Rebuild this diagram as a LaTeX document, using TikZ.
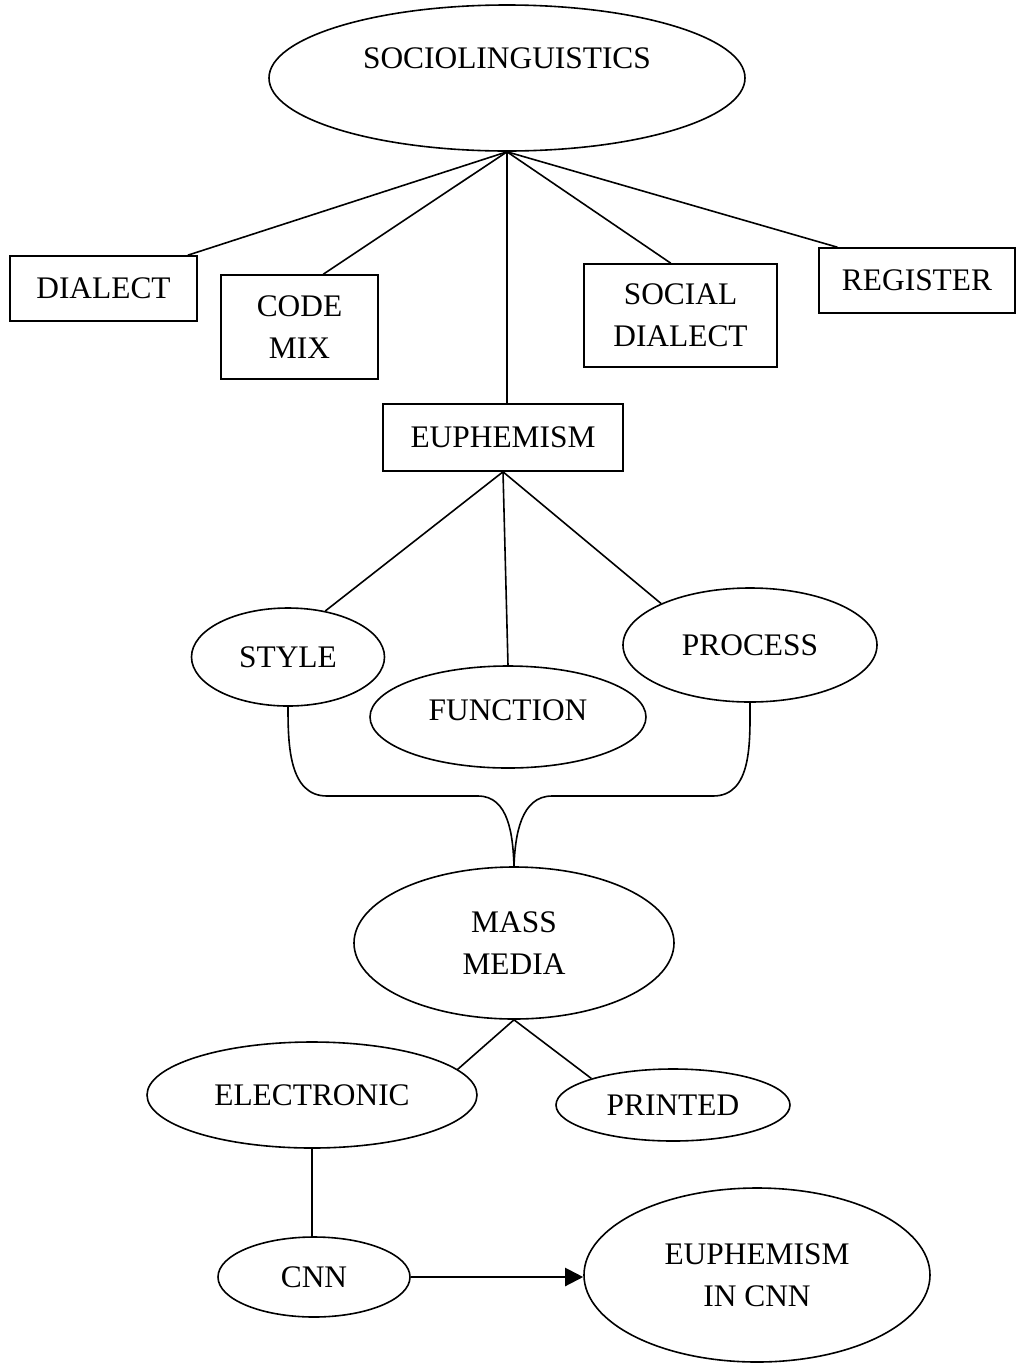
\documentclass[tikz,border=0pt]{standalone}
\usepackage{fontspec}
\setmainfont{Liberation Serif}
\usepackage{tikz}
\usetikzlibrary{shapes.geometric,arrows.meta,calc}

\tikzset{
  box/.style={draw, line width=0.8pt, rectangle, inner sep=0pt, align=center},
  bubble/.style={draw, line width=0.8pt, ellipse, inner sep=0pt, align=center},
  link/.style={line width=0.8pt}
}

\begin{document}
\begin{tikzpicture}[x=0.5pt, y=-0.5pt, font=\fontsize{15.7}{21}\selectfont]
            \useasboundingbox (0,0) rectangle (1017,1366);

            % Radice
            \node[bubble, minimum width=238pt, minimum height=73pt,
                  label={[yshift=10pt]center:SOCIOLINGUISTICS}] (soc) at (507,78) {};

            % Rami
            \node[box, minimum width=93.5pt, minimum height=32.5pt] (dialect) at (103.5,288.5) {DIALECT};
            \node[box, minimum width=78.5pt, minimum height=52pt] (codemix) at (299.5,327) {CODE\\MIX};
            \node[box, minimum width=120pt, minimum height=33.5pt] (euph) at (503,437.5) {EUPHEMISM};
            \node[box, minimum width=96.5pt, minimum height=51.5pt] (socdial) at (680.5,315.5) {SOCIAL\\DIALECT};
            \node[box, minimum width=98pt, minimum height=32.5pt] (register) at (917,280.5) {REGISTER};

            \draw[link] (soc.south) -- ($(dialect.north west)!0.947!(dialect.north east)$);
            \draw[link] (soc.south) -- ($(codemix.north west)!0.65!(codemix.north east)$);
            \draw[link] (soc.south) -- (soc.south |- euph.north);
            \draw[link] (soc.south) -- ($(socdial.north west)!0.45!(socdial.north east)$);
            \draw[link] (soc.south) -- ($(register.north west)!0.097!(register.north east)$);

            % Euphemism
            \node[bubble, minimum width=96.5pt, minimum height=49pt] (style) at (288,657) {STYLE};
            \node[bubble, minimum width=138pt, minimum height=51pt] (function) at (508,717) {\raisebox{7pt}{FUNCTION}};
            \node[bubble, minimum width=127pt, minimum height=57pt] (process) at (750,645) {PROCESS};

            \draw[link] (euph.south) -- (style.51);
            \draw[link] (euph.south) -- (function.north);
            \draw[link] (euph.south) -- (process.155);

            % Mass media
            \node[bubble, minimum width=160pt, minimum height=76pt] (mass) at (514,943) {MASS\\MEDIA};

            \coordinate (bl) at (327,796);
            \coordinate (bml) at (478,796);
            \coordinate (bmr) at (552,796);
            \coordinate (br) at (713,796);

            \draw[link] (style.south) to[out=-90, in=180] (bl) -- (bml) to[out=0, in=92] (mass.north);
            \draw[link] (process.south) to[out=-90, in=0] (br) -- (bmr) to[out=180, in=88] (mass.north);

            \node[bubble, minimum width=165pt, minimum height=53pt] (electronic) at (312,1095) {ELECTRONIC};
            \node[bubble, minimum width=117pt, minimum height=36pt] (printed) at (673,1105) {PRINTED};

            \draw[link] (mass.south) -- (electronic.10);
            \draw[link] (mass.south) -- (printed.162);

            % CNN
            \node[bubble, minimum width=96pt, minimum height=40pt] (cnn) at (314,1277) {CNN};
            \node[bubble, minimum width=173pt, minimum height=87pt] (euphcnn) at (757,1275) {EUPHEMISM\\IN CNN};

            \draw[link] (electronic.south) -- (electronic.south |- cnn.north);
            \draw[line width=1.1pt, -{Triangle[length=9pt, width=9pt]}] (cnn.east) -- (cnn.east -| euphcnn.west);
        \end{tikzpicture}
\end{document}
